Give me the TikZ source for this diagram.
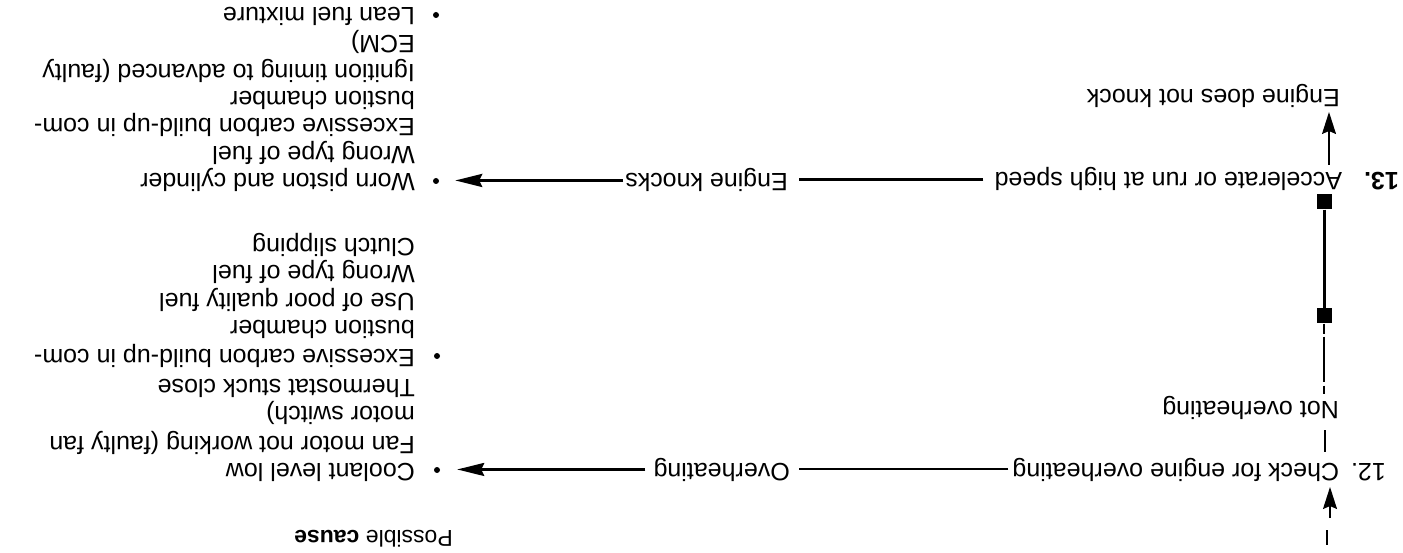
\documentclass[tikz,border=0pt]{standalone}
\usepackage{fontspec}
\setmainfont{Liberation Sans}
\usetikzlibrary{arrows.meta,calc}
\begin{document}
\begin{tikzpicture}[x=1pt,y=1pt,
  txt/.style={rotate=180,anchor=base west,inner sep=0pt,font=\fontsize{25}{28}\selectfont},
  hdr/.style={rotate=180,anchor=base west,inner sep=0pt,font=\fontsize{23}{26}\selectfont},
  blt/.style={circle,fill=black,inner sep=0pt,minimum size=6pt},
  sqbox/.style={rectangle,fill=black,inner sep=0pt,minimum size=15pt},
  harrow/.style={-{Stealth[length=27pt,width=13pt,inset=3pt]}},
  varrow/.style={-{Stealth[length=22pt,width=14pt,inset=3pt]},line width=1.3pt},
  conn/.style={line width=2.2pt},
  thinline/.style={line width=1.3pt},
  dline/.style={line width=1.2pt,dash pattern=on 10pt off 3pt on 45pt off 4pt on 8pt}]
\useasboundingbox (0,0) rectangle (1403,-553);

% flow chart side
\node[txt] (n13) at (1399,-173) {{\bfseries 13.}\hspace{22pt}Accelerate or run at high speed};
\node[txt] (nok) at (1340,-90) {Engine does not knock};
\node[txt] (knk) at (788,-174) {Engine knocks};
\node[txt] (n12) at (1386,-463) {12.\hspace{12pt}Check for engine overheating};
\node[txt] (nov) at (1339,-401) {Not overheating};
\node[txt] (ovh) at (790,-463) {Overheating};
\node[hdr] (hd) at (453,-530) {Possible \textbf{cause}};

% causes, overheating group
\node[txt] (c1) at (415,-463) {Coolant level low};
\node[txt] (c2) at (415,-436) {Fan motor not working (faulty fan};
\node[txt] (c3) at (415,-406) {motor switch)};
\node[txt] (c4) at (415,-379) {Thermostat stuck close};
\node[txt] (c5) at (415,-349) {Excessive carbon build-up in com-};
\node[txt] (c6) at (415,-320) {bustion chamber};
\node[txt] (c7) at (415,-294) {Use of poor quality fuel};
\node[txt] (c8) at (415,-266) {Wrong type of fuel};
\node[txt] (c9) at (415,-239) {Clutch slipping};
% causes, knocking group
\node[txt] (k1) at (415,-174) {Worn piston and cylinder};
\node[txt] (k2) at (415,-147) {Wrong type of fuel};
\node[txt] (k3) at (415,-119) {Excessive carbon build-up in com-};
\node[txt] (k4) at (415,-92) {bustion chamber};
\node[txt] (k5) at (415,-65) {Ignition timing to advanced (faulty};
\node[txt] (k6) at (415,-36) {ECM)};
\node[txt] (k7) at (415,-8) {Lean fuel mixture};

% bullets
\node[blt] (b1) at (437,-470) {};
\node[blt] (b2) at (437,-356) {};
\node[blt] (b3) at (436,-181) {};
\node[blt] (b4) at (436,-15) {};

% squares
\node[sqbox] (sq1) at (1324,-202) {};
\node[sqbox] (sq2) at (1324,-316) {};

% helper coordinates
\coordinate (fa) at (1329,0);
\coordinate (fb) at (1325,0);
\coordinate (in12) at (1330,-518);
\coordinate (s1) at (1327,-530);
\coordinate (s2) at (1327,-545);

% horizontal connectors
\draw[conn,shorten <=11pt,shorten >=11pt] (n13.east) -- (n13.east -| knk.west);
\draw[conn,line width=2.8pt,harrow,shorten <=2pt,shorten >=16pt] (knk.east) -- (knk.east -| b3.east);
\draw[conn,line width=2pt,shorten <=4pt,shorten >=9pt] (n12.east) -- (n12.east -| ovh.west);
\draw[conn,line width=2.4pt,harrow,shorten <=8pt,shorten >=17pt] (ovh.east) -- (ovh.east -| b1.east);

% vertical flow
\draw[varrow,shorten >=5.7pt] (in12) -- (in12 |- n12.north);
\draw[thinline] (s1) -- (s2);
\draw[thinline,shorten <=5.7pt,shorten >=11pt] (fb |- n12.south) -- (fb |- nov.north);
\draw[dline] (sq2) -- (sq2 |- nov.south);
\draw[line width=3pt] (sq1) -- (sq2);
\draw[varrow,shorten <=2.7pt,shorten >=3.7pt] (fa |- n13.south) -- (fa |- nok.north);
\end{tikzpicture}
\end{document}
